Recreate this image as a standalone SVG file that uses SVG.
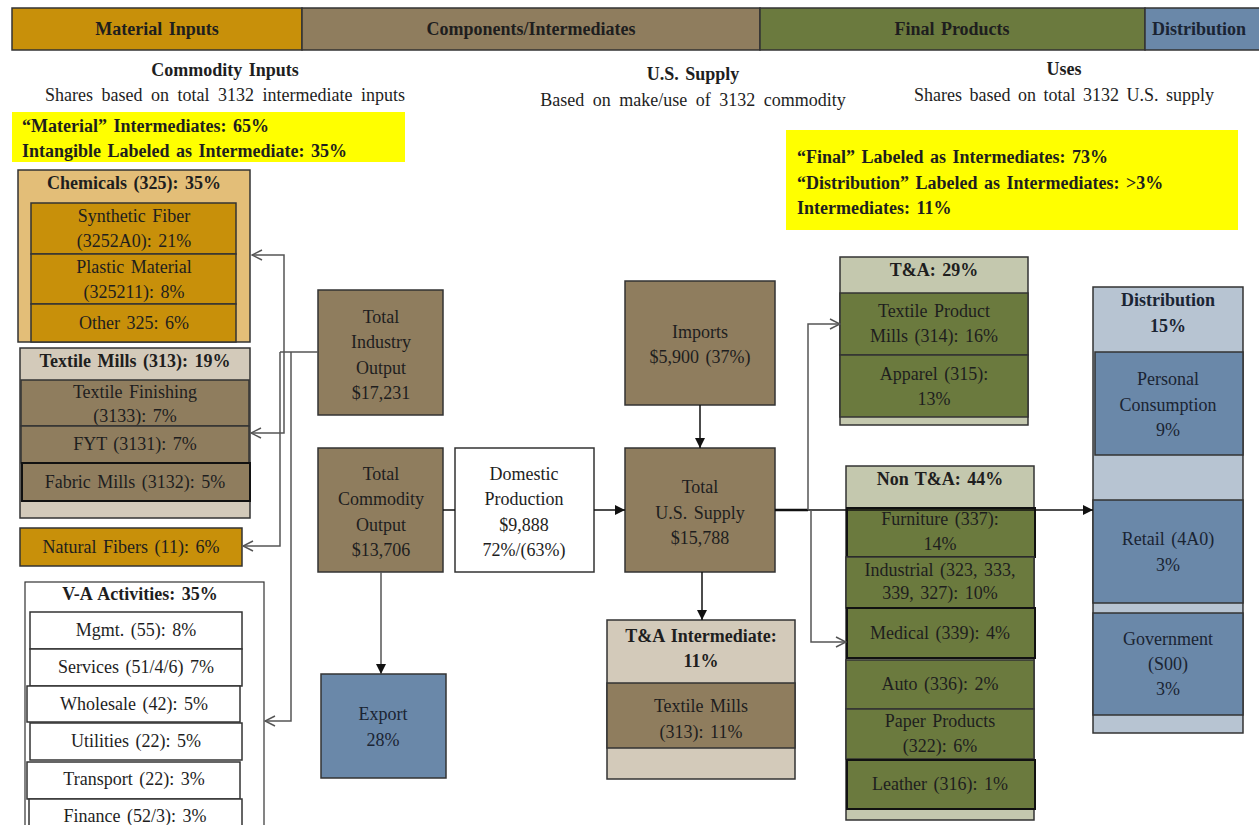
<svg xmlns="http://www.w3.org/2000/svg" width="1259" height="825" viewBox="0 0 1259 825">
<style>
.t{font-family:"Liberation Serif","Times New Roman",Tinos,"Nimbus Roman","Noto Serif","DejaVu Serif",FreeSerif,Georgia,serif;font-size:18px;word-spacing:2px;fill:#1e1e1e;text-anchor:middle}
.b{font-weight:bold}
.l{text-anchor:start}
.nv{fill:#1a2433}
.box{stroke:#333;stroke-width:1.5}
.gold{fill:#C8900A}
.lgold{fill:#E3BE78}
.brown{fill:#8F7D5E}
.lbrown{fill:#D3CABA}
.olive{fill:#6B7A3E}
.lolive{fill:#C4C8AE}
.blue{fill:#6A88A9}
.lblue{fill:#B7C4D2}
.white{fill:#fff}
.yel{fill:#FFFF00}
.conn{stroke:#555;stroke-width:1.5;fill:none}
.dk{stroke:#111;stroke-width:1.5;fill:none}
</style>
<defs>
<marker id="open" viewBox="0 0 12 12" refX="11" refY="6" markerWidth="12" markerHeight="12" markerUnits="userSpaceOnUse" orient="auto">
<path d="M1,1 L11,6 L1,11" fill="none" stroke="#555" stroke-width="1.5"/>
</marker>
<marker id="fill" viewBox="0 0 10 10" refX="10" refY="5" markerWidth="10" markerHeight="10" markerUnits="userSpaceOnUse" orient="auto">
<path d="M0,0 L10,5 L0,10 Z" fill="#111"/>
</marker>
</defs>
<rect width="1259" height="825" fill="#fff"/>

<g id="header-bar">
<rect x="12" y="8" width="290" height="42" class="box gold"/>
<rect x="302" y="8" width="458" height="42" class="box brown"/>
<rect x="760" y="8" width="385" height="42" class="box olive"/>
<rect x="1145" y="8" width="120" height="42" class="box blue"/>
<text x="157" y="35" class="t b">Material Inputs</text>
<text x="531" y="35" class="t b">Components/Intermediates</text>
<text x="952" y="35" class="t b">Final Products</text>
<text x="1152" y="35" class="t b l nv">Distribution</text>
</g>

<g id="headings">
<text x="225" y="76" class="t b">Commodity  Inputs</text>
<text x="225" y="101" class="t" style="word-spacing:4px">Shares based on total 3132 intermediate inputs</text>
<text x="693" y="80" class="t b">U.S. Supply</text>
<text x="693" y="106" class="t" style="word-spacing:4px">Based on make/use of 3132 commodity</text>
<text x="1064" y="75" class="t b">Uses</text>
<text x="1064" y="101" class="t" style="word-spacing:3px">Shares based on total 3132 U.S. supply</text>
</g>

<g id="note-left">
<rect x="12" y="112" width="393" height="50" class="yel"/>
<text x="22" y="132" class="t b l">“Material” Intermediates: 65%</text>
<text x="22" y="157" class="t b l">Intangible Labeled as Intermediate: 35%</text>
</g>

<g id="note-right">
<rect x="786" y="130" width="452" height="100" class="yel"/>
<text x="797" y="163" class="t b l">“Final” Labeled as Intermediates: 73%</text>
<text x="797" y="189" class="t b l">“Distribution” Labeled as Intermediates: &gt;3%</text>
<text x="797" y="214" class="t b l">Intermediates: 11%</text>
</g>

<g id="chemicals">
<rect x="18" y="170" width="232" height="172" class="box lgold"/>
<text x="134" y="189" class="t b">Chemicals (325): 35%</text>
<rect x="31" y="203" width="205" height="51" class="box gold"/>
<text x="134" y="222" class="t">Synthetic Fiber</text>
<text x="134" y="247" class="t">(3252A0): 21%</text>
<rect x="31" y="254" width="205" height="50" class="box gold"/>
<text x="134" y="273" class="t">Plastic Material</text>
<text x="134" y="298" class="t">(325211): 8%</text>
<rect x="31" y="304" width="205" height="38" class="box gold"/>
<text x="134" y="329" class="t">Other 325: 6%</text>
</g>

<g id="textile-mills">
<rect x="20" y="348" width="230" height="170" class="box lbrown"/>
<text x="135" y="367" class="t b">Textile Mills (313): 19%</text>
<rect x="21" y="380" width="228" height="46" class="box brown"/>
<text x="135" y="398" class="t">Textile Finishing</text>
<text x="135" y="422" class="t">(3133): 7%</text>
<rect x="21" y="426" width="228" height="37" class="box brown"/>
<text x="135" y="450" class="t">FYT (3131): 7%</text>
<rect x="22" y="463" width="228" height="38" class="brown" stroke="#111" stroke-width="2"/>
<text x="135" y="488" class="t">Fabric Mills (3132): 5%</text>
</g>

<g id="natural-fibers">
<rect x="20" y="528" width="222" height="38" class="box gold"/>
<text x="131" y="553" class="t">Natural Fibers (11): 6%</text>
</g>

<g id="va-activities">
<rect x="25" y="582" width="239" height="250" class="white" stroke="#333" stroke-width="1.2"/>
<text x="140" y="600" class="t b">V-A Activities: 35%</text>
<rect x="30" y="612" width="212" height="37" class="box white"/>
<text x="136" y="636" class="t">Mgmt. (55): 8%</text>
<rect x="30" y="649" width="212" height="37" class="box white"/>
<text x="136" y="673" class="t">Services (51/4/6) 7%</text>
<rect x="27" y="686" width="213" height="36" class="box white"/>
<text x="134" y="710" class="t">Wholesale (42): 5%</text>
<rect x="30" y="723" width="212" height="37" class="box white"/>
<text x="136" y="747" class="t">Utilities (22): 5%</text>
<rect x="27" y="762" width="213" height="37" class="box white"/>
<text x="134" y="785" class="t">Transport (22): 3%</text>
<rect x="29" y="799" width="213" height="37" class="box white"/>
<text x="135" y="822" class="t">Finance (52/3): 3%</text>
</g>

<g id="total-industry-output">
<rect x="318" y="290" width="125" height="125" class="box brown"/>
<text x="381" y="323" class="t">Total</text>
<text x="381" y="348" class="t">Industry</text>
<text x="381" y="374" class="t">Output</text>
<text x="381" y="399" class="t">$17,231</text>
</g>

<g id="total-commodity-output">
<rect x="318" y="448" width="125" height="124" class="box brown"/>
<text x="381" y="480" class="t">Total</text>
<text x="381" y="505" class="t">Commodity</text>
<text x="381" y="531" class="t">Output</text>
<text x="381" y="556" class="t">$13,706</text>
</g>

<g id="domestic-production">
<rect x="455" y="448" width="139" height="124" class="box white"/>
<text x="524" y="480" class="t">Domestic</text>
<text x="524" y="505" class="t">Production</text>
<text x="524" y="531" class="t">$9,888</text>
<text x="524" y="556" class="t">72%/(63%)</text>
</g>

<g id="export">
<rect x="321" y="674" width="125" height="104" class="box blue"/>
<text x="383" y="720" class="t nv">Export</text>
<text x="383" y="746" class="t nv">28%</text>
</g>

<g id="imports">
<rect x="625" y="281" width="150" height="124" class="box brown"/>
<text x="700" y="338" class="t">Imports</text>
<text x="700" y="363" class="t">$5,900 (37%)</text>
</g>

<g id="total-us-supply">
<rect x="625" y="448" width="150" height="124" class="box brown"/>
<text x="700" y="493" class="t">Total</text>
<text x="700" y="519" class="t">U.S. Supply</text>
<text x="700" y="544" class="t">$15,788</text>
</g>

<g id="ta-intermediate">
<rect x="607" y="620" width="188" height="159" class="box lbrown"/>
<text x="701" y="642" class="t b">T&amp;A Intermediate:</text>
<text x="701" y="667" class="t b">11%</text>
<rect x="607" y="683" width="188" height="65" class="box brown"/>
<text x="701" y="712" class="t">Textile Mills</text>
<text x="701" y="738" class="t">(313): 11%</text>
</g>

<g id="ta">
<rect x="840" y="257" width="188" height="168" class="box lolive"/>
<text x="934" y="276" class="t b">T&amp;A: 29%</text>
<rect x="840" y="293" width="188" height="62" class="box olive"/>
<text x="934" y="317" class="t">Textile Product</text>
<text x="934" y="342" class="t">Mills (314): 16%</text>
<rect x="840" y="355" width="188" height="62" class="box olive"/>
<text x="934" y="380" class="t">Apparel (315):</text>
<text x="934" y="405" class="t">13%</text>
</g>

<g id="non-ta">
<rect x="846" y="466" width="188" height="354" class="box lolive"/>
<text x="940" y="485" class="t b">Non T&amp;A: 44%</text>
<rect x="847" y="508" width="188" height="49" class="olive" stroke="#111" stroke-width="2"/>
<text x="940" y="525" class="t">Furniture (337):</text>
<text x="940" y="550" class="t">14%</text>
<rect x="846" y="557" width="188" height="51" class="box olive"/>
<text x="940" y="576" class="t">Industrial (323, 333,</text>
<text x="940" y="599" class="t">339, 327): 10%</text>
<rect x="847" y="608" width="188" height="50" class="olive" stroke="#111" stroke-width="2"/>
<text x="940" y="639" class="t">Medical (339): 4%</text>
<rect x="846" y="660" width="188" height="49" class="box olive"/>
<text x="940" y="690" class="t">Auto (336): 2%</text>
<rect x="846" y="709" width="188" height="50" class="box olive"/>
<text x="940" y="727" class="t">Paper Products</text>
<text x="940" y="752" class="t">(322): 6%</text>
<rect x="847" y="760" width="188" height="49" class="olive" stroke="#111" stroke-width="2"/>
<text x="940" y="790" class="t">Leather (316): 1%</text>
</g>

<g id="distribution">
<rect x="1093" y="287" width="150" height="446" class="box lblue"/>
<text x="1168" y="306" class="t b nv">Distribution</text>
<text x="1168" y="332" class="t b nv">15%</text>
<rect x="1095" y="352" width="148" height="103" class="box blue"/>
<text x="1168" y="385" class="t nv">Personal</text>
<text x="1168" y="411" class="t nv">Consumption</text>
<text x="1168" y="436" class="t nv">9%</text>
<rect x="1093" y="500" width="150" height="103" class="box blue"/>
<text x="1168" y="545" class="t nv">Retail (4A0)</text>
<text x="1168" y="571" class="t nv">3%</text>
<rect x="1093" y="613" width="150" height="102" class="box blue"/>
<text x="1168" y="645" class="t nv">Government</text>
<text x="1168" y="670" class="t nv">(S00)</text>
<text x="1168" y="695" class="t nv">3%</text>
</g>

<g id="connectors">
<path d="M318,352 H280" class="conn"/>
<path d="M284,352 V255 H252" class="conn" marker-end="url(#open)"/>
<path d="M284,352 V433 H251" class="conn" marker-end="url(#open)"/>
<path d="M280,352 V546 H243" class="conn" marker-end="url(#open)"/>
<path d="M291,352 V721 H265" class="conn" marker-end="url(#open)"/>
<path d="M443,510 H455" class="dk"/>
<path d="M594,510 H625" class="dk" marker-end="url(#fill)"/>
<path d="M700,405 V448" class="dk" marker-end="url(#fill)"/>
<path d="M381,572 V674" class="conn" marker-end="url(#fill)"/>
<path d="M702,572 V620" class="dk" marker-end="url(#fill)"/>
<path d="M775,510 H808" stroke="#111" stroke-width="2.5" fill="none"/>
<path d="M808,510 H1093" class="dk" marker-end="url(#fill)"/>
<path d="M808,510 V324 H840" class="conn" marker-end="url(#open)"/>
<path d="M811,510 V642 H846" class="conn" marker-end="url(#open)"/>
</g>
</svg>
